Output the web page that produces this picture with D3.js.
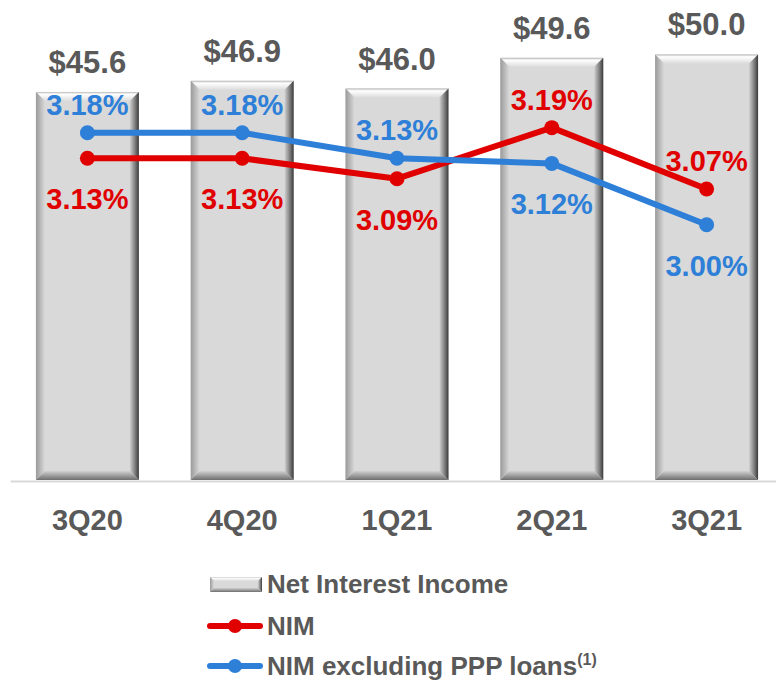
<!DOCTYPE html>
<html>
<head>
<meta charset="utf-8">
<script src="https://cdn.jsdelivr.net/npm/d3@7"></script>
<style>
  body { margin: 0; background: #fff; }
  svg { display: block; font-family: Arial, "Liberation Sans", sans-serif; font-weight: bold; }
</style>
</head>
<body>
<svg></svg>
<script>
let categories = ['3Q20', '4Q20', '1Q21', '2Q21', '3Q21'];
let netInterestIncome = [45.6, 46.9, 46.0, 49.6, 50.0];
let nim = [3.13, 3.13, 3.09, 3.19, 3.07];
let nimExPPP = [3.18, 3.18, 3.13, 3.12, 3.00];
let nimLabelSide = ['below', 'below', 'below', 'above', 'above'];
let nimExLabelSide = ['above', 'above', 'above', 'below', 'below'];
let legendNames = ['Net Interest Income', 'NIM', 'NIM excluding PPP loans'];

let width = 776;
let height = 680;
let baseline = 480;
let textColor = '#595959';
let red = '#e00000';
let blue = '#2e7fd8';

let svg = d3.select('svg').attr('width', width).attr('height', height);

let xScale = d3.scaleBand()
  .domain(categories)
  .range([10, 784])
  .paddingInner(0.335)
  .paddingOuter(0.1675);

let barScale = d3.scaleLinear().domain([0, 56.4]).range([baseline, 0]);
let rateScale = d3.scaleLinear().domain([2.50, 3.44]).range([baseline, 0]);

// gradients for the bevelled bars
let defs = svg.append('defs');
let addGrad = (id, x1, y1, x2, y2, stops) => {
  let g = defs.append('linearGradient').attr('id', id)
    .attr('x1', x1).attr('y1', y1).attr('x2', x2).attr('y2', y2);
  stops.forEach(s => g.append('stop').attr('offset', s[0]).attr('stop-color', s[1]));
};
addGrad('bevTop', 0, 0, 0, 1, [[0, '#b8b8b8'], [0.25, '#ffffff'], [1, '#dcdcdc']]);
addGrad('bevLeft', 0, 0, 1, 0, [[0, '#9a9a9a'], [1, '#d9d9d9']]);
addGrad('bevRight', 1, 0, 0, 0, [[0, '#3a3a3a'], [0.4, '#7a7a7a'], [1, '#cfcfcf']]);
addGrad('bevBottom', 0, 1, 0, 0, [[0, '#6e6e6e'], [1, '#d0d0d0']]);

let drawBevelBar = (g, x0, y0, w, h, b) => {
  let x1 = x0 + w, y1 = y0 + h;
  g.append('rect').attr('x', x0).attr('y', y0).attr('width', w).attr('height', h).attr('fill', '#d9d9d9');
  let poly = (pts, fill) => g.append('polygon').attr('points', pts.map(p => p.join(',')).join(' ')).attr('fill', fill);
  poly([[x0, y0], [x1, y0], [x1 - b, y0 + b], [x0 + b, y0 + b]], 'url(#bevTop)');
  poly([[x0, y0], [x0 + b, y0 + b], [x0 + b, y1 - b], [x0, y1]], 'url(#bevLeft)');
  poly([[x1, y0], [x1, y1], [x1 - b, y1 - b], [x1 - b, y0 + b]], 'url(#bevRight)');
  poly([[x0, y1], [x0 + b, y1 - b], [x1 - b, y1 - b], [x1, y1]], 'url(#bevBottom)');
};

// bars
let bars = svg.append('g').attr('class', 'bars');
categories.forEach((c, i) => {
  let g = bars.append('g');
  drawBevelBar(g, xScale(c), barScale(netInterestIncome[i]), xScale.bandwidth(),
    baseline - barScale(netInterestIncome[i]), 9);
});

// x axis
let xAxis = d3.axisBottom(xScale).tickSize(0).tickSizeOuter(0);
let axisG = svg.append('g')
  .attr('transform', `translate(0, ${baseline + 1})`)
  .call(xAxis);
axisG.select('.domain').attr('stroke', '#d9d9d9').attr('stroke-width', 2);
axisG.selectAll('text')
  .attr('y', 49).attr('dy', 0)
  .attr('fill', textColor)
  .style('font-size', '29px')
  .style('font-family', 'Arial, "Liberation Sans", sans-serif')
  .style('font-weight', 'bold');

// bar value labels
svg.append('g').selectAll('text')
  .data(netInterestIncome)
  .enter()
  .append('text')
  .attr('x', (d, i) => xScale(categories[i]) + xScale.bandwidth() / 2)
  .attr('y', d => barScale(d) - 19)
  .attr('text-anchor', 'middle')
  .attr('fill', textColor)
  .style('font-size', '31px')
  .text(d => '$' + d.toFixed(1));

let cx = c => xScale(c) + xScale.bandwidth() / 2;

let drawSeries = (values, color, sides) => {
  let line = d3.line()
    .x((d, i) => cx(categories[i]))
    .y(d => rateScale(d));
  svg.append('path')
    .datum(values)
    .attr('d', line)
    .attr('fill', 'none')
    .attr('stroke', color)
    .attr('stroke-width', 6)
    .attr('stroke-linejoin', 'round');
  svg.append('g').selectAll('circle')
    .data(values)
    .enter()
    .append('circle')
    .attr('cx', (d, i) => cx(categories[i]))
    .attr('cy', d => rateScale(d))
    .attr('r', 7.5)
    .attr('fill', color);
  svg.append('g').selectAll('text')
    .data(values)
    .enter()
    .append('text')
    .attr('x', (d, i) => cx(categories[i]))
    .attr('y', (d, i) => rateScale(d) + (sides[i] === 'above' ? -18 : 51))
    .attr('text-anchor', 'middle')
    .attr('fill', color)
    .style('font-size', '29px')
    .text(d => d.toFixed(2) + '%');
};

drawSeries(nim, red, nimLabelSide);
drawSeries(nimExPPP, blue, nimExLabelSide);

// legend
let legend = svg.append('g');
let rowY = [584, 626, 666];
drawBevelBar(legend.append('g'), 210, rowY[0] - 7, 52, 15, 4);
[red, blue].forEach((col, k) => {
  let y = rowY[k + 1];
  legend.append('line').attr('x1', 210).attr('x2', 260).attr('y1', y).attr('y2', y)
    .attr('stroke', col).attr('stroke-width', 6).attr('stroke-linecap', 'round');
  legend.append('circle').attr('cx', 235).attr('cy', y).attr('r', 7).attr('fill', col);
});
legendNames.forEach((name, k) => {
  let t = legend.append('text')
    .attr('x', 267)
    .attr('y', rowY[k] + 9)
    .attr('fill', textColor)
    .style('font-size', '26px')
    .text(name);
  if (k === 2) {
    t.append('tspan').attr('dy', -10).style('font-size', '16px').text('(1)');
  }
});
</script>
</body>
</html>
